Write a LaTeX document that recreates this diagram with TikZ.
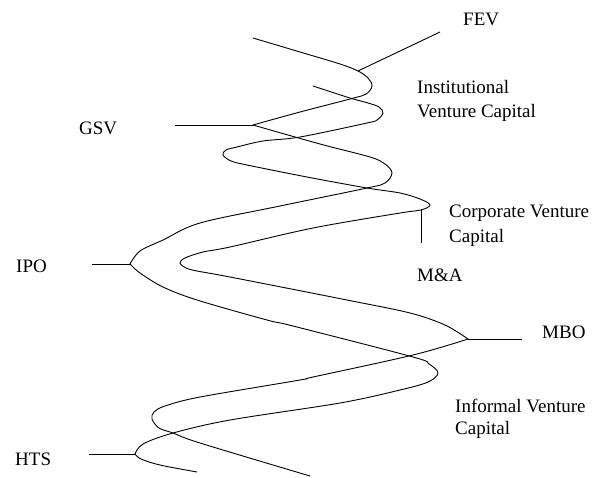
\documentclass[tikz,border=0pt]{standalone}
\usepackage{fontspec}
\setmainfont{Liberation Serif}
\begin{document}
\begin{tikzpicture}[x=1pt,y=-1pt,
  strand/.style={line width=0.9pt, line join=round, line cap=round},
  tick/.style={line width=0.9pt},
  lab/.style={anchor=base west, inner sep=0pt, font=\fontsize{19}{24}\selectfont, align=left}]
\useasboundingbox (0,0) rectangle (601,477);
% vertices / junctions
\coordinate (vFEV) at (358,71);
\coordinate (eFEV) at (440,32);
\coordinate (vGSV) at (253,125);
\coordinate (eGSV) at (175,125);
\coordinate (vIPO) at (130,264);
\coordinate (eIPO) at (92,264);
\coordinate (vCVC) at (421,209);
\coordinate (eCVC) at (421,243);
\coordinate (vMBO) at (468,339);
\coordinate (eMBO) at (522,339);
\coordinate (vHTS) at (135,454);
\coordinate (eHTS) at (89,454);
% strand A
\draw[strand] plot[smooth, tension=0.55] coordinates {(253,38) (300,52) (340,64) (358,71) (368,78) (372,86) (366,94) (350,99) (300,112) (vGSV)};
\draw[strand] plot[smooth, tension=0.55] coordinates {(vGSV) (320,144) (370,157) (385,164) (392,173) (385,183) (367,188) (280,206) (200,223) (163,240) (140,251) (vIPO)};
\draw[strand] plot[smooth, tension=0.55] coordinates {(vIPO) (140,273) (163,287) (197,300) (267,320) (293,326) (413,357) (429,364) (438,373) (428,382) (400,390) (340,403) (230,420) (173,433) (143,444) (vHTS)};
\draw[strand] plot[smooth, tension=0.55] coordinates {(vHTS) (141,459) (160,465) (197,472)};
% strand B
\draw[strand] plot[smooth, tension=0.55] coordinates {(313,86) (350,98) (368,103) (379,107) (383,113) (377,120) (367,123) (300,137) (263,141) (237,147) (226,150) (223,155) (231,161) (247,165) (307,177) (367,188) (400,193) (420,199) (430,205) (421,210) (400,213) (313,228) (230,247) (203,252) (185,258) (180,263) (186,268) (197,271) (230,277) (347,300) (410,313) (445,325) (vMBO)};
\draw[strand] plot[smooth, tension=0.55] coordinates {(vMBO) (413,355) (313,377) (300,380) (200,397) (165,406) (154,412) (152,419) (159,428) (173,433) (200,443) (310,476)};
% label lines
\draw[tick] (vFEV) -- (eFEV);
\draw[tick] (eGSV) -- (vGSV);
\draw[tick] (eIPO) -- (vIPO);
\draw[tick] (vCVC) -- (eCVC);
\draw[tick] (vMBO) -- (eMBO);
\draw[tick] (eHTS) -- (vHTS);
% labels (multi-line nodes anchored at the baseline of their last line)
\node[lab] (FEV) at (463,25) {FEV};
\node[lab] (IVC) at (417,117) {Institutional\\Venture Capital};
\node[lab] (GSV) at (79,134) {GSV};
\node[lab, font=\fontsize{19}{25}\selectfont] (CVC) at (449,242) {Corporate Venture\\Capital};
\node[lab] (IPO) at (16,272) {IPO};
\node[lab] (MA) at (417,281) {M\&A};
\node[lab] (MBO) at (542,338) {MBO};
\node[lab, font=\fontsize{19}{22}\selectfont] (INF) at (455,434) {Informal Venture\\Capital};
\node[lab] (HTS) at (15,465) {HTS};
\end{tikzpicture}
\end{document}
